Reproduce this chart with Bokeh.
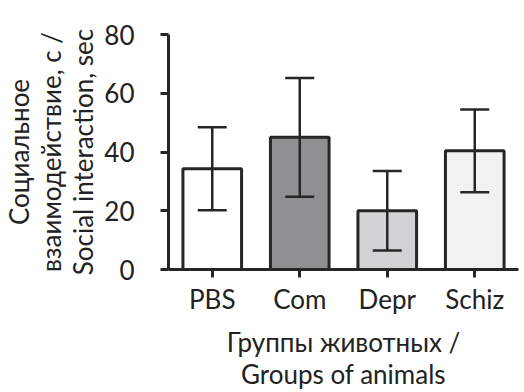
from bokeh.plotting import figure
from bokeh.models import ColumnDataSource, Range1d, FixedTicker, Whisker, TeeHead
from bokeh.embed import file_html
from bokeh.resources import INLINE

groups = ["PBS", "Com", "Depr", "Schiz"]
means = [34.3, 45.0, 20.0, 40.4]
errors = [14.1, 20.2, 13.5, 14.1]
fills = ["#ffffff", "#8f9092", "#d1d2d4", "#f2f2f3"]
y_ticks = [0, 20, 40, 60, 80]

xs = list(range(1, len(groups) + 1))
src = ColumnDataSource(dict(
    x=xs, top=means, fill=fills,
    upper=[m + e for m, e in zip(means, errors)],
    lower=[m - e for m, e in zip(means, errors)],
))

FONT = "Lato"
TXT = "#222222"
INK = "#262626"

p = figure(frame_width=350, frame_height=235, output_backend="svg", toolbar_location=None,
           x_range=Range1d(0.5, 4.5), y_range=Range1d(0, 80),
           min_border_left=148, min_border_right=10, min_border_top=34, min_border_bottom=100)
p.outline_line_color = None
p.grid.visible = False
p.background_fill_color = "white"
p.border_fill_color = "white"

p.vbar(x="x", top="top", bottom=0, width=0.67, source=src, fill_color="fill",
       line_color=INK, line_width=3)

w = Whisker(base="x", upper="upper", lower="lower", source=src,
            line_color=INK, line_width=2.5, level="annotation",
            upper_head=TeeHead(size=29, line_color=INK, line_width=2.5),
            lower_head=TeeHead(size=29, line_color=INK, line_width=2.5))
p.add_layout(w)

for ax in (p.xaxis[0], p.yaxis[0]):
    ax.axis_line_color = INK
    ax.axis_line_width = 3
    ax.major_tick_line_color = INK
    ax.major_tick_line_width = 3
    ax.major_tick_out = 8
    ax.major_tick_in = 0
    ax.minor_tick_line_color = None
    ax.major_label_text_font = FONT
    ax.major_label_text_font_size = "26px"
    ax.major_label_text_color = TXT
    ax.axis_label_text_font = FONT
    ax.axis_label_text_font_size = "26px"
    ax.axis_label_text_font_style = "normal"
    ax.axis_label_text_color = TXT

p.xaxis.ticker = FixedTicker(ticks=xs)
p.xaxis.major_label_overrides = {x: g for x, g in zip(xs, groups)}
p.xaxis.major_label_standoff = 5
p.xaxis.axis_label = "Группы животных /\nGroups of animals"
p.xaxis.axis_label_standoff = 8
p.xaxis.axis_label_text_line_height = 1.03

p.yaxis.ticker = FixedTicker(ticks=y_ticks)
p.yaxis.major_label_standoff = 26
p.yaxis.axis_label = "Социальное\nвзаимодействие, с /\nSocial interaction, sec"
p.yaxis.axis_label_standoff = 2
p.yaxis.axis_label_text_line_height = 1.0

open("out.html", "w").write(file_html(p, INLINE))
